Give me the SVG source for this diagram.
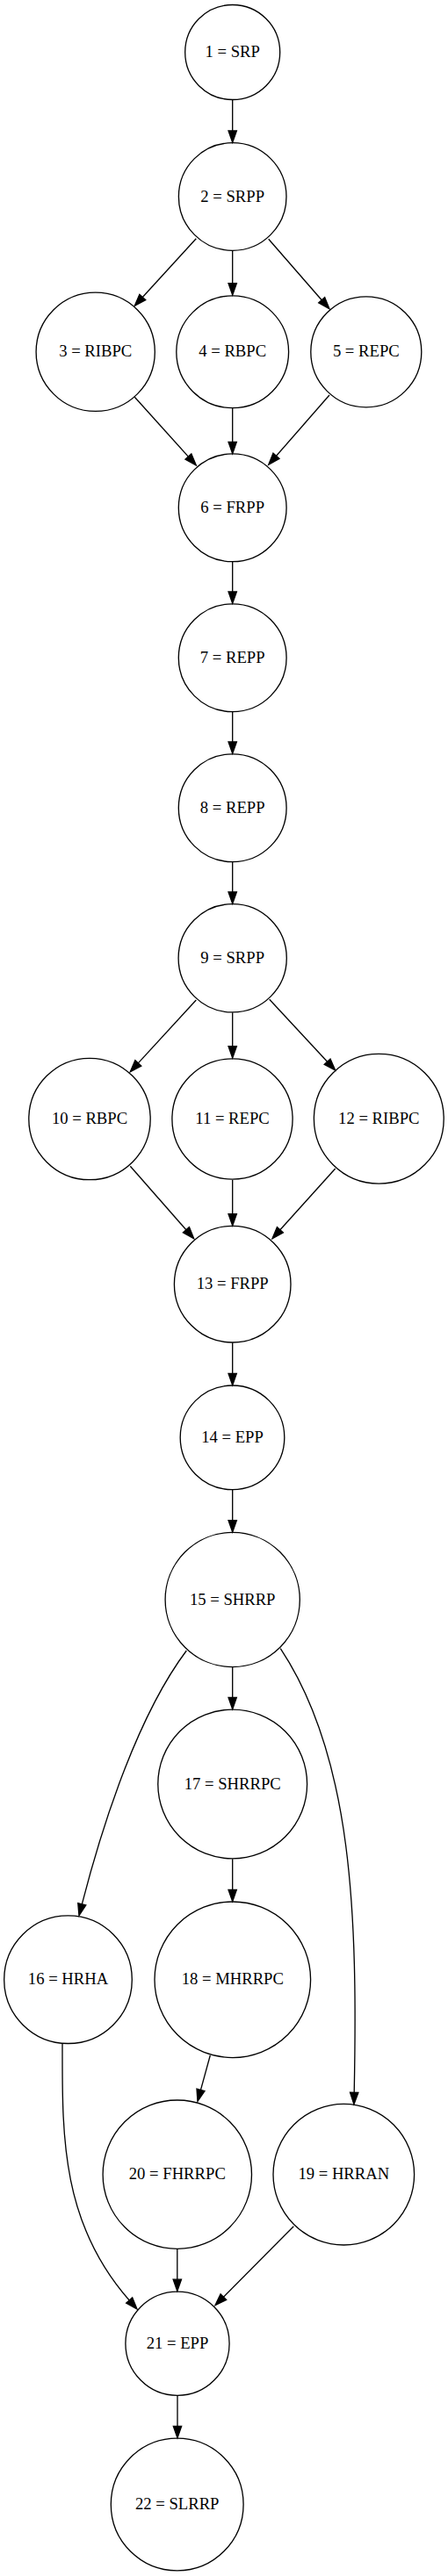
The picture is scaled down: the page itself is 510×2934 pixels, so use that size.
<svg xmlns="http://www.w3.org/2000/svg" width="510" height="2934" viewBox="0 0 510 2934">
<style>
.node circle{fill:none;stroke:#000;stroke-width:1.33}
.node text{font-family:"Liberation Serif","Times New Roman",serif;font-size:18.67px;text-anchor:middle;fill:#000}
.edges path{fill:none;stroke:#000;stroke-width:1.33;marker-end:url(#arrow)}
</style>
<defs>
<marker id="arrow" viewBox="0 0 10 7" refX="0" refY="3.5" markerWidth="13.33" markerHeight="9.33" markerUnits="userSpaceOnUse" orient="auto" overflow="visible">
<path d="M0,0 L10,3.5 L0,7 Z" fill="#000" stroke="#000" stroke-width="1"/>
</marker>
</defs>
<rect x="0" y="0" width="510" height="2934" fill="#fff"/>
<g class="edges">
<path d="M264.7,114 L264.7,149"/>
<path d="M223.3,271.7 L162.3,338.5"/>
<path d="M264.7,285.7 L264.7,322.7"/>
<path d="M305.7,272.3 L366.2,341.7"/>
<path d="M153.3,452.3 L214.4,520.1"/>
<path d="M264.7,465 L264.7,503.3"/>
<path d="M375,450 L314.5,519.3"/>
<path d="M264.7,640 L264.7,674"/>
<path d="M264.7,811 L264.7,845"/>
<path d="M264.7,982 L264.7,1016"/>
<path d="M223.3,1139 L157.3,1210.9"/>
<path d="M264.7,1153.3 L264.7,1191.7"/>
<path d="M306.7,1138.3 L372.6,1209.2"/>
<path d="M148.3,1328.3 L211.9,1400.7"/>
<path d="M264.7,1344 L264.7,1382.7"/>
<path d="M381.7,1331 L318.9,1400.8"/>
<path d="M264.7,1529.3 L264.7,1564.3"/>
<path d="M264.7,1697 L264.7,1731.7"/>
<path d="M212.3,1880 C158.3,1952 118.3,2071.8 93.3,2168.8"/>
<path d="M264.7,1899 L264.7,1933.3"/>
<path d="M319.3,1877.7 C401.8,2002.2 407.2,2183.4 403.2,2383.4"/>
<path d="M264.7,2117.3 L264.7,2152.3"/>
<path d="M239.3,2341 L228.5,2380.4"/>
<path d="M71,2327.7 C71,2427.7 68,2530 147.2,2620"/>
<path d="M334.3,2535.7 L254.4,2616.2"/>
<path d="M201.8,2561.7 L201.8,2596.2"/>
<path d="M202,2728.7 L202,2763.3"/>
</g>
<g id="n1" class="node"><circle cx="264.7" cy="59.5" r="54"/><text x="264.7" y="65.1">1 = SRP</text></g>
<g id="n2" class="node"><circle cx="264.7" cy="224" r="61.3"/><text x="264.7" y="229.6">2 = SRPP</text></g>
<g id="n3" class="node"><circle cx="108.7" cy="400.8" r="67.6"/><text x="108.7" y="406.4">3 = RIBPC</text></g>
<g id="n4" class="node"><circle cx="264.7" cy="400.8" r="63.9"/><text x="264.7" y="406.4">4 = RBPC</text></g>
<g id="n5" class="node"><circle cx="416.8" cy="400.8" r="63"/><text x="416.8" y="406.4">5 = REPC</text></g>
<g id="n6" class="node"><circle cx="264.7" cy="578.3" r="61.4"/><text x="264.7" y="583.9">6 = FRPP</text></g>
<g id="n7" class="node"><circle cx="264.7" cy="749.2" r="61.4"/><text x="264.7" y="754.8">7 = REPP</text></g>
<g id="n8" class="node"><circle cx="264.7" cy="920.2" r="61.4"/><text x="264.7" y="925.8">8 = REPP</text></g>
<g id="n9" class="node"><circle cx="264.7" cy="1091.3" r="61.6"/><text x="264.7" y="1096.9">9 = SRPP</text></g>
<g id="n10" class="node"><circle cx="102" cy="1274.5" r="69.2"/><text x="102" y="1280.1">10 = RBPC</text></g>
<g id="n11" class="node"><circle cx="264.5" cy="1274.5" r="68.6"/><text x="264.5" y="1280.1">11 = REPC</text></g>
<g id="n12" class="node"><circle cx="431.3" cy="1274.3" r="73.9"/><text x="431.3" y="1279.9">12 = RIBPC</text></g>
<g id="n13" class="node"><circle cx="264.7" cy="1462.7" r="66.3"/><text x="264.7" y="1468.3">13 = FRPP</text></g>
<g id="n14" class="node"><circle cx="264.5" cy="1637.3" r="59.3"/><text x="264.5" y="1642.9">14 = EPP</text></g>
<g id="n15" class="node"><circle cx="264.7" cy="1822" r="76.6"/><text x="264.7" y="1827.6">15 = SHRRP</text></g>
<g id="n16" class="node"><circle cx="77.5" cy="2254.7" r="72.8"/><text x="77.5" y="2260.3">16 = HRHA</text></g>
<g id="n17" class="node"><circle cx="264.7" cy="2032" r="84.9"/><text x="264.7" y="2037.6">17 = SHRRPC</text></g>
<g id="n18" class="node"><circle cx="264.8" cy="2254.8" r="88.8"/><text x="264.8" y="2260.4">18 = MHRRPC</text></g>
<g id="n19" class="node"><circle cx="391.3" cy="2476.7" r="80.3"/><text x="391.3" y="2482.3">19 = HRRAN</text></g>
<g id="n20" class="node"><circle cx="201.8" cy="2476.7" r="84.7"/><text x="201.8" y="2482.3">20 = FHRRPC</text></g>
<g id="n21" class="node"><circle cx="202" cy="2669.3" r="59.1"/><text x="202" y="2674.9">21 = EPP</text></g>
<g id="n22" class="node"><circle cx="201.7" cy="2852.5" r="75.4"/><text x="201.7" y="2858.1">22 = SLRRP</text></g>
</svg>
